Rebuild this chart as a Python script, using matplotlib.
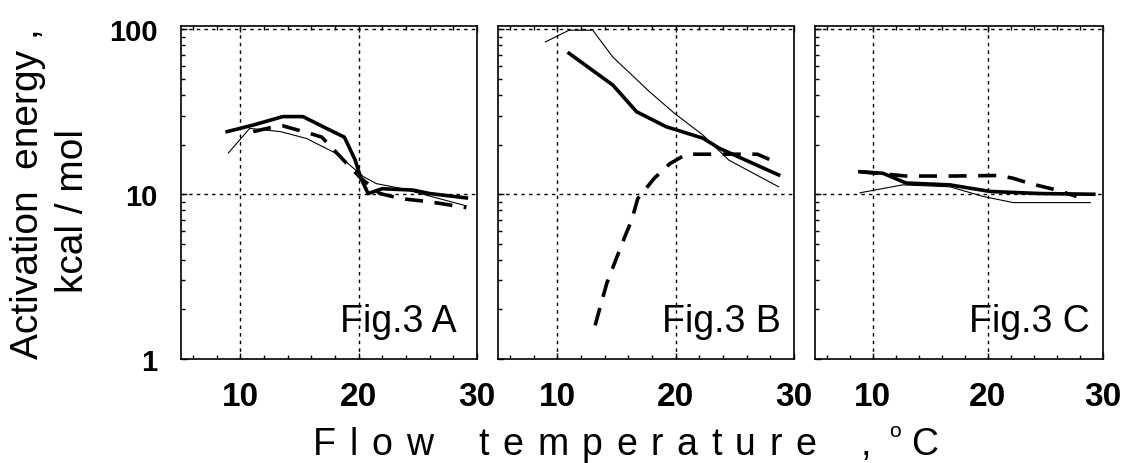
import numpy as np
import matplotlib
matplotlib.use("Agg")
import matplotlib.pyplot as plt
from matplotlib.ticker import FixedLocator, MultipleLocator, LogLocator, NullFormatter

plt.rcParams['font.family'] = ['Liberation Sans', 'DejaVu Sans']

# panel A
a_thick_x = [8.9, 11.1, 13.6, 15.3, 17.0, 18.8, 19.7, 20.2, 20.8, 22.0, 24.6, 26.0, 29.1]
a_thick_y = [24.0, 26.3, 29.6, 29.6, 25.7, 22.2, 16.2, 12.5, 10.1, 10.8, 10.6, 10.1, 9.5]
a_dash_x = [11.1, 12.7, 13.6, 15.9, 16.9, 18.7, 20.2, 21.8, 23.6, 26.0, 29.1]
a_dash_y = [24.0, 25.5, 26.0, 23.4, 22.2, 16.2, 12.5, 10.1, 9.4, 9.0, 8.3]
a_thin_x = [9.0, 10.8, 13.4, 15.6, 18.1, 20.4, 21.5, 23.7, 29.1]
a_thin_y = [17.8, 25.1, 24.0, 21.8, 17.7, 12.8, 11.6, 10.8, 8.5]

# panel B
b_thick_x = [11.0, 14.7, 16.7, 19.2, 22.3, 23.7, 28.7]
b_thick_y = [71.7, 46.0, 31.7, 25.7, 21.9, 19.0, 13.1]
b_dash_x = [13.2, 14.2, 15.7, 16.3, 16.8, 18.2, 19.5, 20.9, 23.6, 26.9, 28.7]
b_dash_y = [1.6, 2.9, 5.5, 7.0, 9.4, 12.5, 15.3, 17.5, 17.5, 17.5, 15.4]
b_thin_x = [9.0, 11.0, 13.0, 14.7, 17.8, 19.9, 22.3, 24.5, 28.7]
b_thin_y = [84.0, 99.0, 99.0, 68.0, 41.9, 31.0, 22.9, 16.1, 11.1]

# panel C
c_thick_x = [8.9, 10.9, 12.9, 16.7, 20.2, 24.5, 29.2]
c_thick_y = [13.7, 13.4, 11.7, 11.4, 10.4, 10.1, 10.0]
c_dash_x = [8.9, 10.9, 12.9, 17.0, 21.0, 22.2, 23.7, 26.0, 27.7]
c_dash_y = [13.7, 13.3, 12.9, 12.9, 13.0, 12.5, 11.6, 10.6, 9.7]
c_thin_x = [8.9, 12.6, 16.7, 19.6, 22.2, 28.9]
c_thin_y = [10.2, 11.4, 11.1, 9.7, 8.9, 8.9]

panels = [
    ("Fig.3 A", a_thick_x, a_thick_y, a_dash_x, a_dash_y, a_thin_x, a_thin_y),
    ("Fig.3 B", b_thick_x, b_thick_y, b_dash_x, b_dash_y, b_thin_x, b_thin_y),
    ("Fig.3 C", c_thick_x, c_thick_y, c_dash_x, c_dash_y, c_thin_x, c_thin_y),
]
xticks = [10, 20, 30]
yticks = [1, 10, 100]
ytick_labels = ["1", "10", "100"]

W, H = 1125, 464
fig = plt.figure(figsize=(W / 100, H / 100), dpi=100)

# axes boxes in pixels: left, right, top, bottom
boxes = [(181, 477, 27, 360), (498, 794, 27, 360), (815, 1103, 27, 360)]
label_inset = [20, 13, 13]

for i, (name, tx, ty, dx, dy, nx, ny) in enumerate(panels):
    l, r, t, b = boxes[i]
    ax = fig.add_axes([l / W, 1 - b / H, (r - l) / W, (b - t) / H])
    ax.set_yscale('log')
    ax.set_xlim(5, 30)
    ax.set_ylim(1, 105)

    for v in [10, 20]:
        ax.axvline(v, color='black', lw=1.0, ls=(0, (2.5, 3)), zorder=1)
    for v in [10, 100]:
        ax.axhline(v, color='black', lw=1.0, ls=(0, (2.5, 3)), zorder=1)

    ax.plot(nx, ny, color='black', lw=0.8, zorder=3)
    ax.plot(tx, ty, color='black', lw=2.6, zorder=4, solid_joinstyle='round')
    ax.plot(dx, dy, color='black', lw=2.6, dashes=(5, 3.2), zorder=4)

    ax.xaxis.set_major_locator(FixedLocator(xticks))
    ax.xaxis.set_minor_locator(MultipleLocator(2))
    ax.yaxis.set_major_locator(FixedLocator(yticks))
    ax.yaxis.set_minor_locator(LogLocator(base=10, subs=np.arange(2, 10)))
    ax.yaxis.set_minor_formatter(NullFormatter())
    ax.tick_params(which='both', direction='in', top=True, right=False,
                   width=1.0, color='black')
    ax.tick_params(which='major', length=4)
    ax.tick_params(which='minor', length=3)
    ax.tick_params(axis='x', which='major', pad=16, labelsize=24)
    ax.set_xticklabels([str(v) for v in xticks], fontweight='bold')
    if i == 0:
        ax.tick_params(axis='y', which='major', pad=17, labelsize=21)
        ax.set_yticklabels(ytick_labels, fontweight='bold')
    else:
        ax.set_yticklabels([])
    for s in ax.spines.values():
        s.set_linewidth(1.2)

    xr = 1 - label_inset[i] / (r - l)
    ax.text(xr, (b - 332) / (b - t), name, transform=ax.transAxes,
            ha='right', va='baseline', fontsize=27)

fig.text(28 / W, 1 - 194 / H, "Activation  energy ,", rotation=90,
         ha='center', va='center', fontsize=28)
fig.text(73 / W, 1 - 211 / H, "kcal / mol", rotation=90,
         ha='center', va='center', fontsize=28)

# x label drawn letter by letter, widely tracked like the original
renderer = fig.canvas.get_renderer()
base = 1 - 455 / H
x = 313
for word in ["Flow", "temperature"]:
    for ch in word:
        txt = fig.text(x / W, base, ch, ha='left', va='baseline', fontsize=27)
        x += txt.get_window_extent(renderer).width + 13.5
    x += 46 - 13.5
x += 45 - 46
fig.text(x / W, base, ",", ha='left', va='baseline', fontsize=27)
fig.text((x + 28) / W, 1 - 437 / H, "o", ha='left', va='baseline', fontsize=15)
fig.text((x + 50) / W, base, "C", ha='left', va='baseline', fontsize=27)

fig.savefig("out.png", dpi=100)
